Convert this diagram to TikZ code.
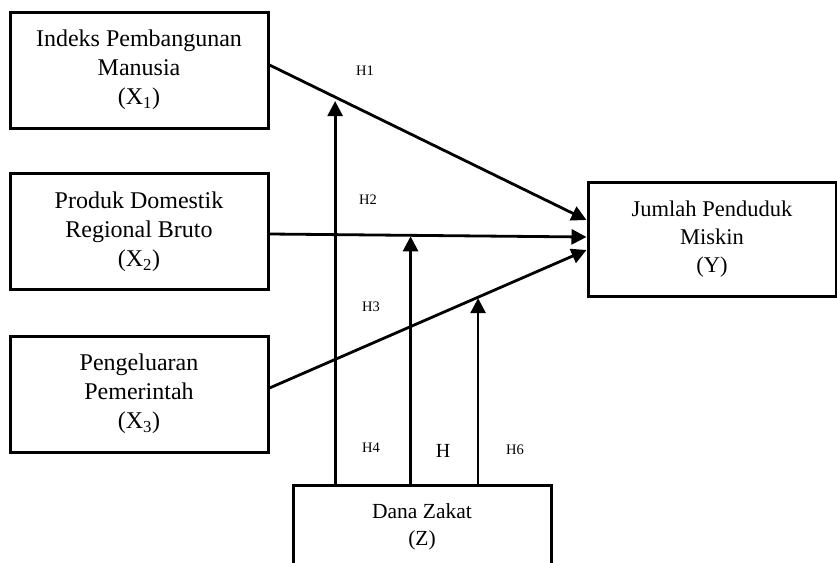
\documentclass[tikz,border=0pt]{standalone}
\usepackage{fontspec}
\setmainfont{Liberation Serif}
\usetikzlibrary{arrows.meta,calc}
\begin{document}
\begin{tikzpicture}[x=1pt,y=-1pt,
  var/.style={draw,line width=3pt,inner sep=0pt,align=center,minimum width=258pt,minimum height=116pt},
  conn/.style={line width=2.8pt,-{Triangle[length=15pt,width=15pt]}},
  hlab/.style={font=\fontsize{14.5}{17}\selectfont,inner sep=0pt}]
\useasboundingbox (0,0) rectangle (837,562);
\node[var,font=\fontsize{24}{29}\selectfont] (x1) at (139,70) {Indeks Pembangunan\\Manusia\\(X\textsubscript{1})};
\node[var,font=\fontsize{24}{29}\selectfont] (x2) at (139,231.5) {Produk Domestik\\Regional Bruto\\(X\textsubscript{2})};
\node[var,font=\fontsize{24}{29}\selectfont] (x3) at (139,394) {Pengeluaran\\Pemerintah\\(X\textsubscript{3})};
\node[var,font=\fontsize{22.5}{28}\selectfont,minimum width=248pt,minimum height=114pt] (y) at (712,239) {Jumlah Penduduk\\Miskin\\(Y)};
\node[var,font=\fontsize{21.5}{27}\selectfont,minimum width=258pt,minimum height=84pt] (z) at (422,527) {Dana Zakat\\(Z)};
\coordinate (s1) at ([yshift=5pt]x1.east);
\coordinate (e1) at ([yshift=19pt]y.west);
\coordinate (s2) at ([yshift=-2.5pt]x2.east);
\coordinate (e2) at ([yshift=2pt]y.west);
\coordinate (s3) at ([yshift=6pt]x3.east);
\coordinate (e3) at ([yshift=-11pt]y.west);
\draw[conn] (s1) -- (e1);
\draw[conn] (s2) -- (e2);
\draw[conn] (s3) -- (e3);
\coordinate (t1) at ($(s1)!0.207!(e1)+(0,4)$);
\coordinate (t2) at ($(s2)!0.445!(e2)+(0,1)$);
\coordinate (t3) at ($(s3)!0.658!(e3)+(0,1)$);
\draw[conn] (t1 |- z.north) -- (t1);
\draw[conn] (t2 |- z.north) -- (t2);
\draw[conn] (t3 |- z.north) -- (t3);
\node[hlab] (h1) at (365,71) {H1};
\node[hlab] (h2) at (368,200) {H2};
\node[hlab] (h3) at (371,307) {H3};
\node[hlab] (h4) at (371,448) {H4};
\node[hlab,font=\fontsize{20}{24}\selectfont] (h5) at (443,451) {H};
\node[hlab] (h6) at (515,450) {H6};
\end{tikzpicture}
\end{document}
